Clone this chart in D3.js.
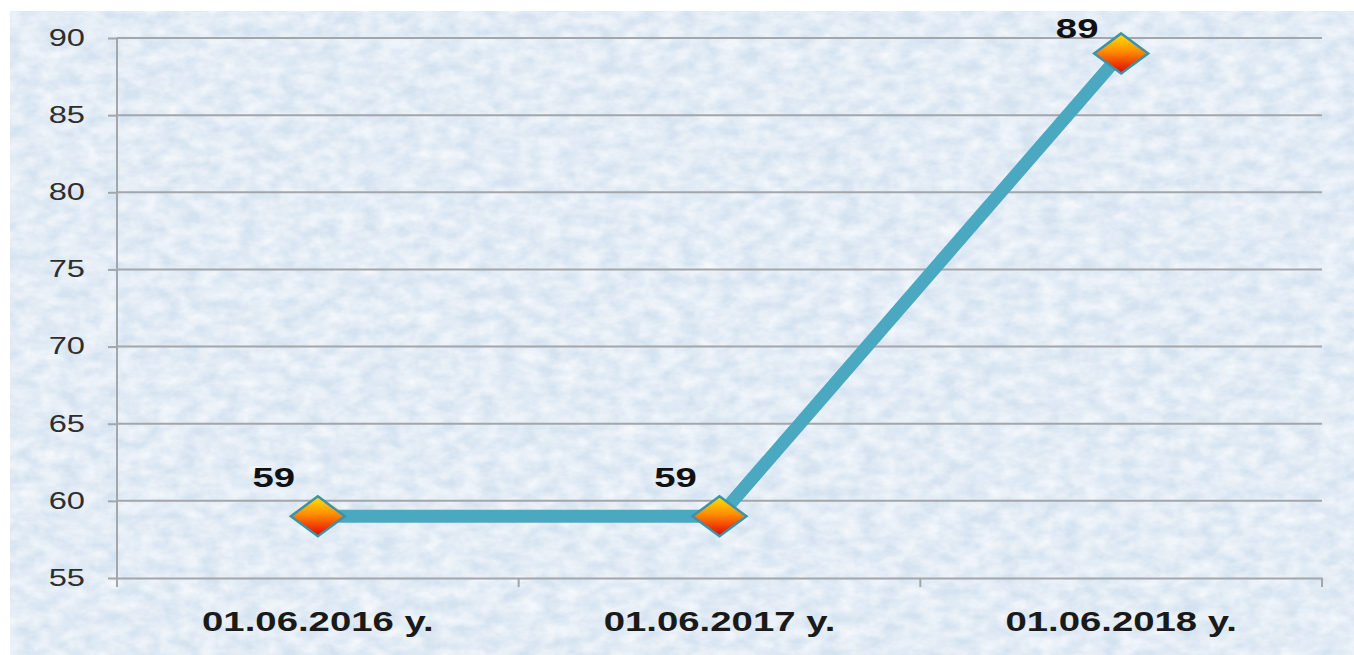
<html>
<head>
  <script src='https://d3js.org/d3.v7.min.js'></script>
</head>
<style type="text/css">
body { margin: 0; background: #fff; }
</style>
<body>
<script>

var categories = ["01.06.2016 y.", "01.06.2017 y.", "01.06.2018 y."],
    values = [59, 59, 89],
    yTicks = [55, 60, 65, 70, 75, 80, 85, 90];

var width = 1354,
    height = 655,
    margin = {top: 38, right: 32, bottom: 77, left: 117},
    stretch = 1.42,   // the picture's text is drawn wide
    font = 'Arial, "Liberation Sans", sans-serif';

var svg = d3.select('body')
  .append('svg')
  .attr('width', width)
  .attr('height', height);

var defs = svg.append('defs');

// paper texture for the background
var tex = defs.append('filter')
  .attr('id', 'paper')
  .attr('x', 0).attr('y', 0).attr('width', 1).attr('height', 1);
tex.append('feTurbulence')
  .attr('type', 'fractalNoise')
  .attr('baseFrequency', '0.05 0.08')
  .attr('numOctaves', 4)
  .attr('seed', 7)
  .attr('result', 'noise');
tex.append('feColorMatrix')
  .attr('in', 'noise')
  .attr('type', 'matrix')
  .attr('values', '0 0 0 0 1  0 0 0 0 1  0 0 0 0 1  0 0 0 -1.1 0.85')
  .attr('result', 'spots');
tex.append('feComposite')
  .attr('in', 'spots')
  .attr('in2', 'SourceGraphic')
  .attr('operator', 'over');

var grad = defs.append('linearGradient')
  .attr('id', 'diamond')
  .attr('x1', 0).attr('y1', 0).attr('x2', 0).attr('y2', 1);
grad.append('stop').attr('offset', '0%').attr('stop-color', '#ffe600');
grad.append('stop').attr('offset', '45%').attr('stop-color', '#ff8c00');
grad.append('stop').attr('offset', '100%').attr('stop-color', '#e30000');

svg.append('rect')
  .attr('x', 10)
  .attr('y', 11)
  .attr('width', width - 10)
  .attr('height', height - 11)
  .attr('fill', '#d5e3f1')
  .attr('filter', 'url(#paper)');

var x = d3.scaleBand()
  .domain(categories)
  .range([margin.left, width - margin.right]);

var y = d3.scaleLinear()
  .domain([55, 90])
  .range([height - margin.bottom, margin.top]);

function widen(sel) {
  sel.each(function() {
    var t = d3.select(this),
        tx = +t.attr('x') || 0;
    t.attr('x', 0)
     .attr('transform', 'translate(' + tx + ',0) scale(' + stretch + ',1)');
  });
}

// gridlines
svg.append('g')
  .selectAll('line')
  .data(yTicks.slice(1))
  .enter().append('line')
  .attr('x1', margin.left)
  .attr('x2', width - margin.right)
  .attr('y1', function(d) { return y(d); })
  .attr('y2', function(d) { return y(d); })
  .attr('stroke', '#a3a6aa')
  .attr('stroke-width', 2);

// y axis
var yAxis = svg.append('g')
  .attr('transform', 'translate(' + margin.left + ',0)')
  .call(d3.axisLeft(y).tickValues(yTicks).tickSize(9).tickPadding(32 - 9));
yAxis.select('.domain').remove();
yAxis.append('line')
  .attr('x1', 0).attr('x2', 0)
  .attr('y1', margin.top)
  .attr('y2', height - margin.bottom + 9)
  .attr('stroke', '#a3a6aa')
  .attr('stroke-width', 2);
yAxis.selectAll('.tick line').attr('stroke', '#a3a6aa').attr('stroke-width', 2);
yAxis.selectAll('.tick text')
  .attr('font-family', font)
  .attr('font-size', '23px')
  .attr('fill', '#2e2e2e')
  .call(widen);

// x axis
var xAxis = svg.append('g')
  .attr('transform', 'translate(0,' + (height - margin.bottom) + ')')
  .call(d3.axisBottom(x).tickSize(0).tickPadding(34));
xAxis.select('.domain').attr('stroke', '#a3a6aa').attr('stroke-width', 2);
xAxis.selectAll('.tick text')
  .attr('font-family', font)
  .attr('font-size', '27px')
  .attr('font-weight', 'bold')
  .attr('fill', '#1a1a1a')
  .call(widen);

var edges = categories.map(function(c) { return x(c); }).concat([x.range()[1]]);
xAxis.selectAll('.edge')
  .data(edges.slice(1))
  .enter().append('line')
  .attr('class', 'edge')
  .attr('x1', function(d) { return d; })
  .attr('x2', function(d) { return d; })
  .attr('y1', 0)
  .attr('y2', 9)
  .attr('stroke', '#a3a6aa')
  .attr('stroke-width', 2);

// line
var cx = function(i) { return x(categories[i]) + x.bandwidth() / 2; };

var line = d3.line()
  .x(function(d, i) { return cx(i); })
  .y(function(d) { return y(d); });

svg.append('path')
  .datum(values)
  .attr('d', line)
  .attr('fill', 'none')
  .attr('stroke', '#4aa8c1')
  .attr('stroke-width', 13)
  .attr('stroke-linejoin', 'miter');

// markers
svg.selectAll('.marker')
  .data(values)
  .enter().append('path')
  .attr('class', 'marker')
  .attr('transform', function(d, i) { return 'translate(' + cx(i) + ',' + y(d) + ')'; })
  .attr('d', 'M0,-20L27,0L0,20L-27,0Z')
  .attr('fill', 'url(#diamond)')
  .attr('stroke', '#3b93a8')
  .attr('stroke-width', 2.5);

// value labels
svg.selectAll('.vlabel')
  .data(values)
  .enter().append('text')
  .attr('class', 'vlabel')
  .attr('transform', function(d, i) {
    var ty = Math.max(y(d) - 29, margin.top);
    return 'translate(' + (cx(i) - 44) + ',' + ty + ') scale(' + stretch + ',1)';
  })
  .attr('text-anchor', 'middle')
  .attr('font-family', font)
  .attr('font-size', '27px')
  .attr('font-weight', 'bold')
  .attr('fill', '#111')
  .text(function(d) { return d; });

</script>
</body>
</html>
